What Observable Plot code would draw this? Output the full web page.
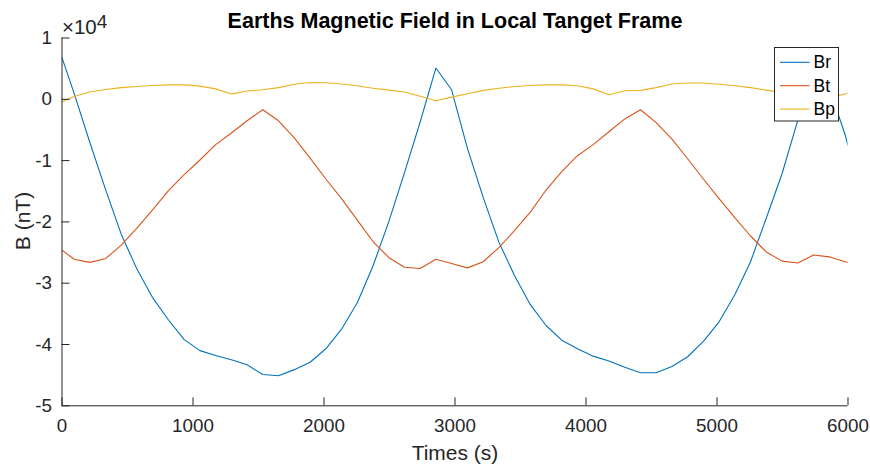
<!DOCTYPE html>
<html><head><meta charset="utf-8">
<script src="https://cdn.jsdelivr.net/npm/d3@7"></script>
<script src="https://cdn.jsdelivr.net/npm/@observablehq/plot@0.6"></script>
<style>body{margin:0;background:#fff} #chart{width:870px;height:468px}</style>
</head><body><div id="chart"></div>
<script>
// time stamps (s)
const times = [0, 92, 212, 332, 452, 572, 693, 813, 933, 1053, 1173, 1293, 1413, 1533, 1653, 1773, 1894, 2014, 2134, 2254, 2374, 2494, 2614, 2734, 2854, 2974, 3095, 3215, 3335, 3455, 3575, 3695, 3815, 3935, 4055, 4175, 4296, 4416, 4536, 4656, 4776, 4896, 5016, 5136, 5256, 5376, 5497, 5617, 5737, 5857, 5977, 6000];
// field components (nT)
const Br = [6800, 1000, -7000, -14700, -22000, -27700, -32400, -36000, -39200, -41000, -41800, -42500, -43300, -44900, -45100, -44100, -42900, -40700, -37500, -33200, -27200, -20000, -12000, -3700, 5100, 1550, -8000, -16000, -23300, -28800, -33500, -36900, -39300, -40700, -41900, -42700, -43700, -44600, -44600, -43600, -42000, -39500, -36300, -31900, -26500, -19400, -12100, -3400, 5000, 1800, -5700, -7500];
const Bt = [-24600, -26100, -26600, -26000, -23800, -21000, -18000, -14900, -12300, -9900, -7400, -5500, -3500, -1700, -3500, -6300, -9600, -13000, -16200, -19700, -23200, -25800, -27400, -27600, -26100, -26800, -27500, -26500, -24200, -21400, -18400, -14800, -11800, -9200, -7400, -5300, -3200, -1700, -3800, -6500, -9700, -13000, -16200, -19300, -22300, -24900, -26400, -26700, -25400, -25700, -26500, -26600];
const Bp = [-400, 450, 1200, 1600, 1900, 2100, 2250, 2350, 2350, 2150, 1700, 850, 1350, 1550, 1900, 2450, 2750, 2700, 2500, 2200, 1800, 1500, 1200, 500, -250, 350, 900, 1450, 1800, 2100, 2250, 2350, 2350, 2200, 1700, 750, 1400, 1450, 1900, 2500, 2650, 2650, 2450, 2200, 1900, 1500, 1100, 600, -100, 300, 850, 1000];
const seriesNames = ["Br", "Bt", "Bp"];
const seriesColors = ["#0072BD", "#D95319", "#EDB120"];
const xTicks = [0, 1000, 2000, 3000, 4000, 5000, 6000];
const yTicks = [-50000, -40000, -30000, -20000, -10000, 0, 10000];
const titleText = "Earths Magnetic Field in Local Tanget Frame";
const xLabel = "Times (s)";
const yLabel = "B (nT)";

const rows = [];
[Br, Bt, Bp].forEach((arr, si) => arr.forEach((v, i) => rows.push({t: times[i], v, s: seriesNames[si]})));

const W = 870, H = 468, mL = 61.5, mR = 22.5, mT = 37.5, mB = 62.7;
const font = "'Liberation Sans', Arial, Helvetica, sans-serif";
const ink = "#262626";

const svg = Plot.plot({
  width: W, height: H,
  marginLeft: mL, marginRight: mR, marginTop: mT, marginBottom: mB,
  style: {fontFamily: font, fontSize: "18.8px", color: ink, background: "#fff", overflow: "visible"},
  x: {domain: [0, 6000], label: null},
  y: {domain: [-50000, 10000], label: null},
  color: {domain: seriesNames, range: seriesColors},
  marks: [
    Plot.line(rows, {x: "t", y: "v", z: "s", stroke: "s", strokeWidth: 1.1, clip: true}),
    Plot.ruleX([0], {stroke: ink, strokeWidth: 1}),
    Plot.ruleY([-50000], {stroke: ink, strokeWidth: 1}),
    Plot.axisX({ticks: xTicks, tickSize: -8, tickPadding: 20.7, tickFormat: d => String(d), stroke: ink, fill: ink, label: null}),
    Plot.axisY({ticks: yTicks, tickSize: -8, tickPadding: 18, tickFormat: d => String(d / 1e4), stroke: ink, fill: ink, label: null})
  ]
});
document.getElementById("chart").appendChild(svg);

const s = d3.select(svg);
// title
s.append("text").attr("x", 455).attr("y", 28.3).attr("text-anchor", "middle")
  .attr("font-family", font).attr("font-size", 21.5).attr("font-weight", "bold").attr("fill", "#000")
  .text(titleText);
// exponent
const ex = s.append("text").attr("x", 62).attr("y", 33.5).attr("text-anchor", "start")
  .attr("font-family", font).attr("font-size", 20.5).attr("fill", ink);
ex.append("tspan").text("\u00d710");
ex.append("tspan").attr("dy", -5.5).attr("font-size", 19).text("4");
// axis labels
s.append("text").attr("x", 455).attr("y", 460).attr("text-anchor", "middle")
  .attr("font-family", font).attr("font-size", 21).attr("fill", ink).text(xLabel);
s.append("text").attr("transform", "translate(30,221) rotate(-90)").attr("text-anchor", "middle")
  .attr("font-family", font).attr("font-size", 21).attr("fill", ink).text(yLabel);
// legend
const lg = s.append("g");
lg.append("rect").attr("x", 774.5).attr("y", 47.5).attr("width", 64).attr("height", 73.5)
  .attr("fill", "#fff").attr("stroke", ink).attr("stroke-width", 1);
seriesNames.forEach((n, i) => {
  const cy = 62.3 + i * 23.4;
  lg.append("line").attr("x1", 780).attr("x2", 809.5).attr("y1", cy).attr("y2", cy)
    .attr("stroke", seriesColors[i]).attr("stroke-width", 1.1);
  lg.append("text").attr("x", 813.5).attr("y", cy).attr("dy", "0.35em").attr("text-anchor", "start")
    .attr("font-family", font).attr("font-size", 17.5).attr("fill", "#000").text(n);
});
</script>
</body></html>
